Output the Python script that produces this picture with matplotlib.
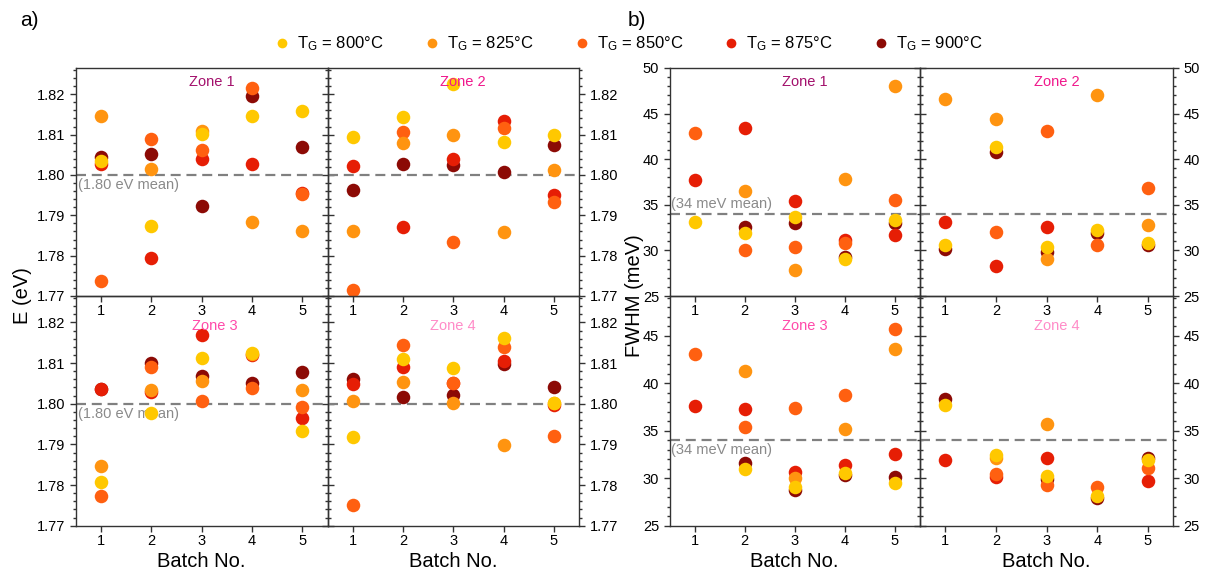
import matplotlib
matplotlib.use("Agg")
import matplotlib.pyplot as plt
from matplotlib.lines import Line2D
from matplotlib.ticker import MultipleLocator, FormatStrFormatter
import numpy as np

plt.rcParams['font.family'] = ['Liberation Sans', 'DejaVu Sans']
plt.rcParams['mathtext.fontset'] = 'custom'
plt.rcParams['mathtext.rm'] = 'Liberation Sans'
plt.rcParams['mathtext.it'] = 'Liberation Sans:italic'

nan = np.nan
batches = [1, 2, 3, 4, 5]
temps = [800, 825, 850, 875, 900]
colors = ['#FFC800', '#FF9410', '#FF6010', '#E61E05', '#8C0A05']
zone_names = ['Zone 1', 'Zone 2', 'Zone 3', 'Zone 4']
zone_colors = ['#A3106C', '#F0188C', '#FF4AAA', '#FF8CC8']

# peak energy (eV), rows = 800, 825, 850, 875, 900 °C
e_zone1 = [[1.8034, 1.7873, 1.8101, 1.8147, 1.8159],
           [1.8145, 1.8014, 1.8108, 1.7883, 1.7860],
           [1.7737, 1.8090, 1.8063, 1.8215, 1.7952],
           [1.8027, 1.7795, 1.8039, 1.8027, 1.7956],
           [1.8045, 1.8052, 1.7922, 1.8195, 1.8070]]
e_zone2 = [[1.8094, 1.8143, 1.8226, 1.8082, 1.8099],
           [1.7862, 1.8078, 1.8100, 1.7859, 1.8012],
           [1.7714, 1.8107, 1.7835, 1.8116, 1.7932],
           [1.8021, 1.7872, 1.8039, 1.8133, 1.7950],
           [1.7963, 1.8026, 1.8025, 1.8007, 1.8075]]
e_zone3 = [[1.7807, 1.7978, 1.8113, 1.8124, 1.7934],
           [1.7848, 1.8034, 1.8056, 1.8123, 1.8034],
           [1.7773, 1.8091, 1.8007, 1.8039, 1.7991],
           [1.8037, 1.8028, 1.8170, 1.8119, 1.7966],
           [1.8037, 1.8101, 1.8068, 1.8050, 1.8079]]
e_zone4 = [[1.7919, 1.8109, 1.8088, 1.8161, 1.8003],
           [1.8007, 1.8054, 1.8001, 1.7898, 1.8002],
           [1.7750, 1.8144, 1.8050, 1.8139, 1.7920],
           [1.8048, 1.8090, 1.8052, 1.8104, 1.7997],
           [1.8062, 1.8016, 1.8022, 1.8098, 1.8041]]

# FWHM (meV), rows = 800, 825, 850, 875, 900 °C
w_zone1 = [[33.13, 31.95, 33.71, 29.08, 33.38],
           [nan, 36.54, 27.83, 37.87, 47.98],
           [42.83, 30.00, 30.40, 30.85, 35.48],
           [37.72, 43.46, 35.40, 31.14, 31.69],
           [nan, 32.61, 32.98, 29.26, 32.98]]
w_zone2 = [[30.63, 41.32, 30.37, 32.21, 30.81],
           [46.62, 44.38, 29.08, 47.06, 32.76],
           [nan, 32.06, 43.05, 30.55, 36.84],
           [33.16, 28.24, 32.61, nan, nan],
           [30.15, 40.77, 29.78, 31.88, 30.59]]
w_zone3 = [[nan, 31.01, 29.08, 30.59, 29.54],
           [nan, 41.31, 30.06, 35.23, 43.57],
           [43.11, 35.41, 37.38, 38.75, 45.68],
           [37.59, 37.27, 30.66, 31.40, 32.60],
           [nan, 31.58, 28.76, 30.34, 30.17]]
w_zone4 = [[37.69, 32.49, 30.24, 28.16, 31.96],
           [nan, 32.10, 35.76, nan, nan],
           [nan, 30.49, 29.32, 29.08, 31.12],
           [31.93, 30.13, 32.14, nan, 29.71],
           [38.36, nan, 29.89, 27.95, 32.14]]

e_mean = 1.80
w_mean = 34

W, H = 1205, 576
fig = plt.figure(figsize=(W / 100, H / 100), dpi=100)


def px_axes(l, t, r, b):
    ax = fig.add_axes([l / W, 1 - b / H, (r - l) / W, (b - t) / H])
    ax.patch.set_alpha(0)
    return ax


def style(ax, ylim, major, minor, fmt, right_side, bottom_row):
    ax.set_xlim(0.5, 5.5)
    ax.set_ylim(*ylim)
    ax.set_xticks(batches)
    ax.yaxis.set_major_locator(MultipleLocator(major))
    ax.yaxis.set_minor_locator(MultipleLocator(minor))
    ax.yaxis.set_major_formatter(FormatStrFormatter(fmt))
    ax.tick_params(axis='both', which='major', direction='out', length=4,
                   width=1, labelsize=10.5, color='#333333')
    ax.tick_params(axis='y', which='minor', direction='out', length=2,
                   width=1, color='#333333')
    ax.tick_params(axis='y', which='both', left=True, right=True,
                   labelleft=not right_side, labelright=right_side)
    ax.tick_params(axis='x', which='both', top=False, pad=2)
    for s in ax.spines.values():
        s.set_color('#333333')
        s.set_linewidth(1)
    if bottom_row:
        ax.set_xlabel('Batch No.', fontsize=14.5, labelpad=3)


def draw(ax, rows):
    # hottest series first so the cooler ones sit on top
    for i in range(len(temps) - 1, -1, -1):
        ax.scatter(batches, rows[i], s=95, color=colors[i], linewidths=0,
                   zorder=3 + (len(temps) - i))


cols_a = [(75.5, 327.5), (327.5, 579)]
cols_b = [(669.5, 920), (920, 1173.3)]
rows_px = [(68, 296), (296, 525.7)]

e_data = [e_zone1, e_zone2, e_zone3, e_zone4]
w_data = [w_zone1, w_zone2, w_zone3, w_zone4]
zone_x = [3.2, 3.2, 3.26, 3.0]
zone_x_b = [3.2, 3.2, 3.2, 3.2]
zone_y = [0.94, 0.94, 0.87, 0.87]

for k in range(4):
    r, c = divmod(k, 2)
    # panel a: emission energy
    ax = px_axes(cols_a[c][0], rows_px[r][0], cols_a[c][1], rows_px[r][1])
    style(ax, (1.77, 1.8265), 0.01, 0.002, '%.2f', c == 1, r == 1)
    draw(ax, e_data[k])
    ax.axhline(e_mean, color='#808080', lw=1.6, ls=(0, (4.5, 2.6)), zorder=2)
    ax.text(zone_x[k], zone_y[k], zone_names[k], transform=ax.get_xaxis_transform(),
            ha='center', va='center', fontsize=10.5, color=zone_colors[k], zorder=10)
    if c == 0:
        ax.annotate('(1.80 eV mean)', xy=(0, e_mean), xycoords=('axes fraction', 'data'),
                    xytext=(2, -2), textcoords='offset points', ha='left', va='top',
                    fontsize=10.5, color='#8A8A8A')

    # panel b: linewidth
    ax = px_axes(cols_b[c][0], rows_px[r][0], cols_b[c][1], rows_px[r][1])
    style(ax, (25, 50) if r == 0 else (25, 49.2), 5, 1, '%d', c == 1, r == 1)
    draw(ax, w_data[k])
    ax.axhline(w_mean, color='#808080', lw=1.6, ls=(0, (4.5, 2.6)), zorder=2)
    ax.text(zone_x_b[k], zone_y[k], zone_names[k], transform=ax.get_xaxis_transform(),
            ha='center', va='center', fontsize=10.5, color=zone_colors[k], zorder=10)
    if c == 0:
        if r == 0:
            ax.annotate('(34 meV mean)', xy=(0, w_mean), xycoords=('axes fraction', 'data'),
                        xytext=(1, 2), textcoords='offset points', ha='left', va='bottom',
                        fontsize=10.5, color='#8A8A8A')
        else:
            ax.annotate('(34 meV mean)', xy=(0, w_mean), xycoords=('axes fraction', 'data'),
                        xytext=(1, -2), textcoords='offset points', ha='left', va='top',
                        fontsize=10.5, color='#8A8A8A')

fig.text(22 / W, 1 - 296 / H, 'E (eV)', rotation=90, ha='center', va='center', fontsize=14.5)
fig.text(634 / W, 1 - 296 / H, 'FWHM (meV)', rotation=90, ha='center', va='center', fontsize=14.5)
fig.text(29 / W, 1 - 20 / H, 'a)', ha='center', va='center', fontsize=15)
fig.text(637 / W, 1 - 20 / H, 'b)', ha='center', va='center', fontsize=15)

handles = [Line2D([], [], ls='none', marker='o', markersize=7, markeredgewidth=0,
                  color=col) for col in colors]
labels = [r'T$_\mathrm{G}$ = %d°C' % t for t in temps]
fig.legend(handles, labels, loc='center', bbox_to_anchor=(629 / W, 1 - 44 / H), ncol=5,
           frameon=False, fontsize=12, handlelength=0.8, handletextpad=0.5,
           columnspacing=2.5, borderpad=0)

fig.savefig('out.png', dpi=100, facecolor='white')
